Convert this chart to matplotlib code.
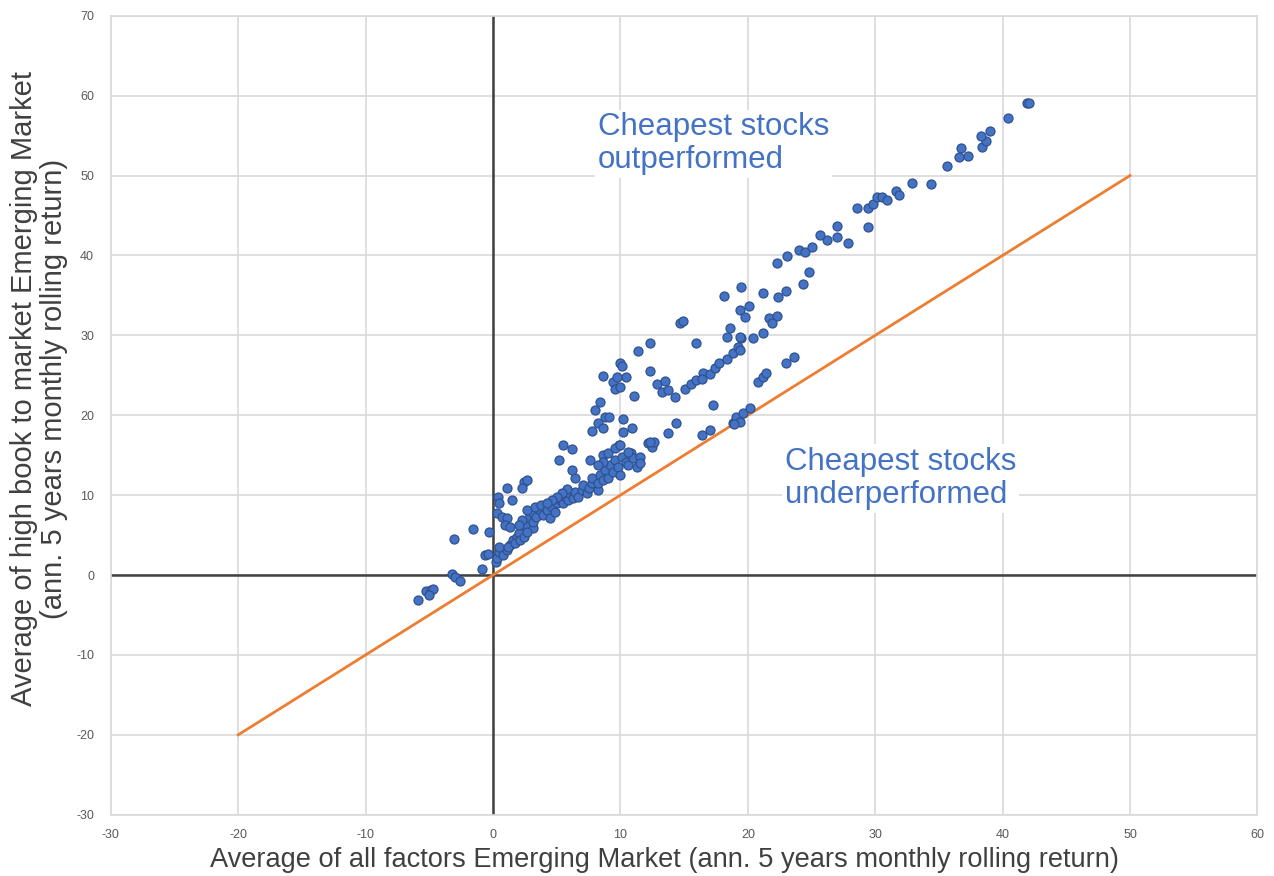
import matplotlib
matplotlib.use("Agg")
import matplotlib.pyplot as plt

plt.rcParams['font.family'] = ['Liberation Sans', 'DejaVu Sans']
plt.rcParams['axes.unicode_minus'] = False

# points left of zero
neg_x = [-5.9, -5.3, -4.9, -4.7, -5.0, -3.2, -3.0, -2.6, -3.1, -1.6, -0.9, -0.6, -0.4, -0.3]
neg_y = [-3.1, -2.0, -1.9, -1.8, -2.5, 0.1, -0.3, -0.7, 4.5, 5.8, 0.8, 2.5, 2.6, 5.4]

# dense band, 0..12
band_x = [0.2, 0.3, 0.5, 0.8, 1.1, 1.3, 1.6, 1.9, 2.1, 2.4, 2.7, 2.9, 3.1,
          0.5, 1.2, 1.7, 2.0, 2.1, 2.4, 2.5, 2.7, 2.8, 3.1, 2.7, 3.1, 3.4, 3.7, 3.3, 3.8,
          3.9, 4.2, 4.6, 4.5, 4.9, 5.0, 5.3, 5.5, 5.7, 5.9, 6.0, 6.3, 6.4, 6.7, 7.0, 7.1,
          7.4, 7.5, 7.8, 7.8, 8.2, 8.2, 8.4, 8.6, 8.8, 9.0, 9.2, 9.4, 9.6, 9.8, 10.0, 10.1,
          10.4, 10.6, 10.8, 11.0, 11.3, 11.5, 8.6, 9.0, 8.6, 7.6, 8.2, 12.2, 12.5, 12.6,
          11.5, 9.9, 10.6, 9.6, 6.4, 6.2, 5.2, 5.5, 6.2, 5.8, 5.4, 5.0, 4.6, 4.2, 2.3, 2.0,
          2.4, 2.7, 2.3, 1.1, 1.5, 0.4, 0.5, 0.3, 0.7, 1.1, 0.9, 1.3]
band_y = [1.6, 2.1, 2.9, 2.5, 3.1, 3.75, 4.4, 4.8, 5.2, 5.6, 6.0, 6.5, 5.9,
          3.5, 3.5, 4.0, 5.3, 4.4, 4.8, 6.3, 5.4, 7.1, 7.8, 8.1, 6.6, 7.3, 8.1, 8.5, 8.8,
          7.5, 8.1, 8.5, 7.1, 7.9, 9.0, 9.4, 9.0, 9.8, 9.4, 10.3, 9.6, 10.4, 9.8, 10.6, 11.3,
          10.3, 10.9, 11.5, 12.1, 10.6, 11.5, 12.5, 11.9, 13.1, 12.1, 13.8, 12.9, 14.4, 13.5, 12.5, 14.8,
          14.1, 13.8, 15.3, 14.6, 13.5, 14.8, 15.0, 15.3, 14.1, 14.4, 13.8, 16.5, 16.0, 16.6,
          14.0, 16.3, 15.4, 15.9, 12.1, 13.1, 14.4, 16.3, 15.8, 10.8, 10.3, 9.8, 9.4, 9.0, 6.9, 6.3,
          11.6, 11.9, 10.9, 10.9, 9.4, 9.8, 9.0, 7.8, 7.3, 7.1, 6.3, 6.0]

# middle group, 7..24
mid_x = [8.0, 8.4, 8.8, 9.1, 8.2, 8.6, 7.8, 10.2, 10.2, 10.9, 14.4, 13.7, 16.4, 17.0,
         18.8, 19.1, 19.6, 20.2, 19.4, 18.9, 17.3, 10.0, 12.3,
         14.7, 14.9, 12.3, 11.4, 15.9, 10.0, 10.1, 8.6, 9.4, 9.7, 10.4, 9.6, 10.0, 12.3,
         12.9, 13.5, 13.3, 13.7, 14.3, 11.1, 15.1, 15.5, 15.9, 16.5, 17.0, 17.4, 17.7,
         18.4, 18.8, 19.2, 19.4, 19.5, 18.4, 18.6, 19.4, 20.4, 20.8, 21.2, 21.4, 23.0,
         23.6, 16.4]
mid_y = [20.6, 21.7, 19.8, 19.8, 19.0, 18.4, 18.0, 19.5, 17.9, 18.4, 19.0, 17.8, 17.5, 18.1,
         19.0, 19.8, 20.3, 20.9, 19.2, 18.9, 21.3, 16.3, 16.6,
         31.5, 31.8, 29.0, 28.0, 29.0, 26.5, 26.2, 24.9, 24.2, 24.8, 24.8, 23.3, 23.5, 25.5,
         23.9, 24.3, 22.9, 23.2, 22.3, 22.4, 23.3, 23.9, 24.4, 25.3, 25.2, 25.9, 26.5,
         27.1, 27.8, 28.6, 28.2, 29.7, 29.8, 30.9, 29.8, 29.7, 24.2, 24.8, 25.3, 26.5,
         27.3, 24.5]

# upper group, 18..42
up_x = [18.1, 19.5, 19.4, 20.1, 19.8, 21.2, 22.4, 23.0, 22.3, 23.1, 24.0, 24.5, 25.0,
        24.3, 24.8, 26.2, 27.9, 21.7, 22.3, 21.9, 21.2, 25.7, 27.0, 27.0, 28.6, 29.4,
        29.4, 29.8, 30.1, 30.5, 30.9, 31.6, 31.9, 32.9, 34.4, 35.6, 36.6, 37.3, 36.7,
        38.4, 38.7, 38.3, 39.0, 40.4, 41.9, 42.1]
up_y = [34.9, 36.0, 33.2, 33.7, 32.3, 35.3, 34.8, 35.5, 39.0, 39.9, 40.7, 40.4, 41.0,
        36.4, 37.9, 41.9, 41.6, 32.2, 32.4, 31.5, 30.3, 42.6, 43.7, 42.3, 45.9, 45.9,
        43.6, 46.4, 47.3, 47.3, 46.9, 48.1, 47.6, 49.1, 48.9, 51.2, 52.3, 52.4, 53.4,
        53.6, 54.3, 54.9, 55.6, 57.2, 59.1, 59.1]

x_all = neg_x + band_x + mid_x + up_x
y_all = neg_y + band_y + mid_y + up_y

diag = [-20, 50]

fig = plt.figure(figsize=(12.74, 8.76), dpi=100)
ax = fig.add_axes([0.087, 0.070, 0.900, 0.912])

ax.set_xlim(-30, 60)
ax.set_ylim(-30, 70)
ax.set_xticks(range(-30, 61, 10))
ax.set_yticks(range(-30, 71, 10))
ax.set_axisbelow(True)
ax.grid(True, color="#d9d9d9", linewidth=1.2, zorder=0)
for s in ax.spines.values():
    s.set_color("#d9d9d9")
    s.set_linewidth(1.2)
ax.tick_params(length=0, labelsize=9, labelcolor="#595959")
ax.tick_params(axis="x", pad=10)
ax.tick_params(axis="y", pad=12)

ax.axhline(0, color="#404040", linewidth=1.8, zorder=2)
ax.axvline(0, color="#404040", linewidth=1.8, zorder=2)

ax.plot(diag, diag, color="#ED7D31", linewidth=2, zorder=3)
ax.scatter(x_all, y_all, s=42, color="#4472C4", edgecolors="#2F528F",
           linewidths=0.9, zorder=4)

ax.text(8.2, 57.9, "Cheapest stocks\noutperformed", color="#4472C4", fontsize=22.5,
        va="top", ha="left", linespacing=1.12,
        bbox=dict(facecolor="white", edgecolor="none", pad=2), zorder=5)
ax.text(22.9, 16.0, "Cheapest stocks\nunderperformed", color="#4472C4", fontsize=22.5,
        va="top", ha="left", linespacing=1.12,
        bbox=dict(facecolor="white", edgecolor="none", pad=2), zorder=5)

ax.set_xlabel("Average of all factors Emerging Market (ann. 5 years monthly rolling return)",
              fontsize=19.6, color="#404040", labelpad=2)
ax.xaxis.set_label_coords(0.4826, -0.040)
ax.set_ylabel("Average of high book to market Emerging Market\n(ann. 5 years monthly rolling return)",
              fontsize=21, color="#404040", labelpad=8, linespacing=1.12)
ax.yaxis.set_label_coords(-0.037, 0.5335)

fig.savefig("out.png", dpi=100)
